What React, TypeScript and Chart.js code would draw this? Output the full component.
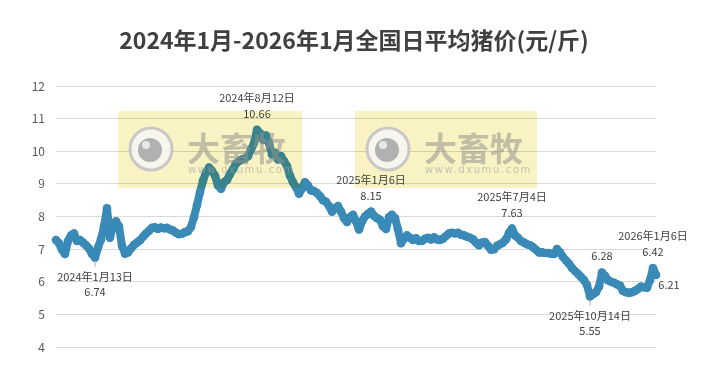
import { useEffect, useRef } from 'react';
import Chart from 'chart.js/auto';

const TITLE = '2024年1月-2026年1月全国日平均猪价(元/斤)';
const Y_MIN = 4;
const Y_MAX = 12;
const Y_STEP = 1;

// daily average pig price samples (元/斤), evenly spaced in time
const PRICES: number[] = [
  7.28, 7.18, 6.98, 6.85, 7.25, 7.42, 7.48, 7.25, 7.28, 7.2,
  7.12, 7.02, 6.85, 6.74, 7.05, 7.3, 7.7, 8.25, 7.35, 7.72,
  7.85, 7.7, 7.1, 6.86, 6.9, 7.02, 7.13, 7.2, 7.27, 7.38,
  7.48, 7.56, 7.65, 7.67, 7.62, 7.66, 7.64, 7.65, 7.6, 7.57,
  7.5, 7.46, 7.47, 7.52, 7.55, 7.68, 7.98, 8.35, 8.75, 9.1,
  9.35, 9.5, 9.4, 9.25, 8.95, 8.85, 9.05, 9.12, 9.3, 9.45,
  9.62, 9.7, 9.75, 9.78, 9.85, 10.05, 10.25, 10.66, 10.55, 10.35,
  10.48, 10.25, 9.9, 9.95, 9.75, 9.85, 9.7, 9.55, 9.25, 9.05,
  8.9, 8.7, 8.85, 9.05, 8.95, 8.8, 8.78, 8.72, 8.62, 8.5,
  8.45, 8.32, 8.15, 8.25, 8.32, 8.15, 7.95, 7.83, 7.98, 8.05,
  7.85, 7.6, 7.85, 8.0, 8.08, 8.15, 8.02, 7.95, 7.9, 7.7,
  7.62, 7.98, 8.05, 7.95, 7.6, 7.18, 7.32, 7.42, 7.35, 7.28,
  7.33, 7.25, 7.25, 7.32, 7.35, 7.3, 7.36, 7.3, 7.28, 7.32,
  7.4, 7.48, 7.5, 7.48, 7.5, 7.44, 7.42, 7.38, 7.35, 7.3,
  7.2, 7.12, 7.2, 7.22, 7.1, 6.98, 7.0, 7.1, 7.15, 7.2,
  7.3, 7.5, 7.63, 7.42, 7.35, 7.25, 7.2, 7.15, 7.12, 7.06,
  6.98, 6.9, 6.9, 6.88, 6.88, 6.86, 6.85, 7.0, 6.9, 6.76,
  6.65, 6.55, 6.42, 6.33, 6.24, 6.15, 6.05, 5.9, 5.55, 5.62,
  5.68, 5.85, 6.28, 6.18, 6.05, 6.0, 5.97, 5.92, 5.88, 5.72,
  5.68, 5.66, 5.68, 5.72, 5.78, 5.85, 5.83, 5.82, 6.05, 6.42,
  6.21,
];

// annotated points: sample index, date label, placement
const NOTE_INDEX = [13, 67, 105, 152, 178, 182, 199, 200];
const NOTE_DATE = ['2024年1月13日', '2024年8月12日', '2025年1月6日', '2025年7月4日', '2025年10月14日', '', '2026年1月6日', ''];
const NOTE_PLACE = ['below', 'above', 'above', 'above', 'below', 'above', 'above', 'right'];

const FONT = "'Noto Sans CJK SC', 'Noto Sans', sans-serif";
const LINE_COLOR = '#3a8ab8';

function drawWatermark(ctx: CanvasRenderingContext2D, x: number, y: number, w: number, h: number) {
  ctx.save();
  ctx.globalCompositeOperation = 'multiply';
  ctx.fillStyle = 'rgb(249,243,196)';
  ctx.fillRect(x, y, w, h);
  ctx.restore();

  ctx.save();
  const cx = x + 33;
  const cy = y + 38;
  ctx.beginPath();
  ctx.arc(cx, cy, 21, 0, Math.PI * 2);
  ctx.fillStyle = 'rgba(246,246,246,0.85)';
  ctx.fill();
  ctx.lineWidth = 3;
  ctx.strokeStyle = 'rgba(195,195,195,0.9)';
  ctx.stroke();
  ctx.beginPath();
  ctx.arc(cx - 1, cy + 1, 12, 0, Math.PI * 2);
  ctx.fillStyle = 'rgba(170,170,170,0.9)';
  ctx.fill();
  ctx.beginPath();
  ctx.arc(cx - 5, cy - 4, 4, 0, Math.PI * 2);
  ctx.fillStyle = 'rgba(235,235,235,0.95)';
  ctx.fill();

  ctx.fillStyle = 'rgba(150,145,140,0.55)';
  ctx.font = `bold 33px ${FONT}`;
  ctx.textAlign = 'left';
  ctx.textBaseline = 'middle';
  ctx.fillText('大畜牧', x + 69, y + 37);
  ctx.font = `10px 'DejaVu Sans', sans-serif`;
  (ctx as any).letterSpacing = '1.6px';
  ctx.fillStyle = 'rgba(160,160,160,0.6)';
  ctx.fillText('www.dxumu.com', x + 70, y + 59);
  ctx.restore();
}

const overlayPlugin = {
  id: 'overlay',
  afterDatasetsDraw(chart: any) {
    const ctx: CanvasRenderingContext2D = chart.ctx;
    drawWatermark(ctx, 118, 111, 184, 77);
    drawWatermark(ctx, 355, 111, 182, 77);

    const xs = chart.scales.x;
    const ys = chart.scales.y;
    ctx.save();
    ctx.font = `11px ${FONT}`;
    ctx.fillStyle = '#404040';
    ctx.textAlign = 'center';
    ctx.textBaseline = 'middle';
    NOTE_INDEX.forEach((idx, k) => {
      const v = PRICES[idx];
      const px = xs.getPixelForValue(idx);
      const py = ys.getPixelForValue(v);
      const date = NOTE_DATE[k];
      const val = v.toFixed(2);
      const place = NOTE_PLACE[k];
      if (place === 'above') {
        if (date) {
          ctx.fillText(date, px, py - 32);
          ctx.fillText(val, px, py - 16);
        } else {
          ctx.fillText(val, px, py - 17);
        }
      } else if (place === 'below') {
        ctx.strokeStyle = '#a6a6a6';
        ctx.lineWidth = 1;
        ctx.beginPath();
        ctx.moveTo(px, py + 3);
        ctx.lineTo(px, py + 9);
        ctx.stroke();
        ctx.fillText(date, px, py + 19);
        ctx.fillText(val, px, py + 34);
      } else {
        ctx.fillText(val, px + 13, py + 10);
      }
    });
    ctx.restore();
  },
  afterDraw(chart: any) {
    const ctx: CanvasRenderingContext2D = chart.ctx;
    ctx.save();
    ctx.font = `bold 23px ${FONT}`;
    ctx.fillStyle = '#404040';
    ctx.textAlign = 'center';
    ctx.textBaseline = 'middle';
    ctx.fillText(TITLE, 354, 40);
    ctx.restore();
  },
};

export default function App() {
  const ref = useRef<HTMLCanvasElement | null>(null);
  useEffect(() => {
    if (!ref.current) return;
    const labels = PRICES.map((_, i) => i);
    const chart = new Chart(ref.current, {
      type: 'line',
      data: {
        labels,
        datasets: [
          {
            data: PRICES.map((v, i) => ({ x: i, y: v })),
            borderColor: LINE_COLOR,
            backgroundColor: LINE_COLOR,
            borderWidth: 8,
            borderJoinStyle: 'round',
            borderCapStyle: 'round',
            pointRadius: 4.3,
            pointBackgroundColor: LINE_COLOR,
            pointBorderWidth: 0,
            pointHoverRadius: 4.3,
            tension: 0,
            clip: false as any,
          },
        ],
      },
      options: {
        animation: false,
        responsive: false,
        maintainAspectRatio: false,
        events: [],
        layout: { padding: { left: 0, right: 54, top: 86, bottom: 21 } },
        plugins: {
          legend: { display: false },
          title: { display: false },
          tooltip: { enabled: false },
        },
        scales: {
          x: {
            type: 'linear',
            display: false,
            min: 0,
            max: PRICES.length - 1,
          },
          y: {
            min: Y_MIN,
            max: Y_MAX,
            afterFit: (s: any) => {
              s.width = 56;
            },
            border: { display: false },
            grid: { color: '#d9d9d9', lineWidth: 1, drawTicks: false },
            ticks: {
              stepSize: Y_STEP,
              padding: 11,
              color: '#595959',
              font: { size: 12, family: FONT },
            },
          },
        },
      },
      plugins: [overlayPlugin],
    });
    return () => chart.destroy();
  }, []);
  return (
    <div style={{ position: 'fixed', left: 0, top: 0, width: 710, height: 368, background: '#fff' }}>
      <canvas ref={ref} width={710} height={368} style={{ display: 'block', width: 710, height: 368 }} />
    </div>
  );
}
